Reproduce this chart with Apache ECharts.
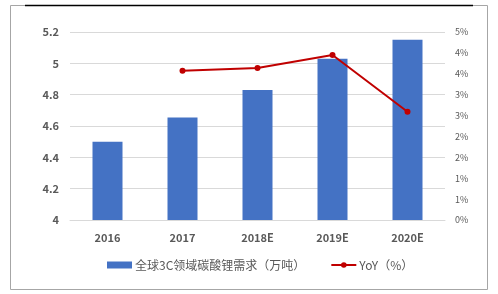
<!DOCTYPE html>
<html><head><meta charset="utf-8">
<script src="https://cdn.jsdelivr.net/npm/echarts@6/dist/echarts.min.js"></script>
<style>html,body{margin:0;padding:0;background:#fff}#c{width:498px;height:294px}</style>
</head><body><div id="c"></div>
<script>
var categories = ['2016','2017','2018E','2019E','2020E'];
var demand = [4.50, 4.655, 4.83, 5.03, 5.15];
var yoy = [null, 3.57, 3.64, 3.95, 2.59];
var rightTickLabels = ['0%','1%','1%','2%','2%','3%','3%','4%','4%','5%'];
var barName = '全球3C领域碳酸锂需求（万吨）';
var lineName = 'YoY（%）';

var font = '"Noto Sans CJK SC", "Noto Sans", sans-serif';
var chart = echarts.init(document.getElementById('c'), null, {renderer:'canvas'});
chart.setOption({
  animation:false,
  textStyle:{fontFamily:font},
  graphic:[
    {type:'rect', shape:{x:10.5,y:5.5,width:477,height:284}, style:{fill:'none',stroke:'#a6a6a6',lineWidth:1}, z:-1},
    {type:'line', shape:{x1:25,y1:5.5,x2:473,y2:5.5}, style:{stroke:'#000',lineWidth:1.5}}
  ],
  grid:{left:70,right:53,top:32,bottom:74,containLabel:false},
  legend:{
    top:254, left:102, itemGap:25, itemWidth:25, itemHeight:7,
    textStyle:{fontSize:12,color:'#595959',fontFamily:font,padding:[0,0,0,-2]},
    data:[{name:barName,icon:'rect'},{name:lineName}]
  },
  xAxis:{
    type:'category', data:categories,
    axisLine:{show:true,lineStyle:{color:'#d9d9d9'}}, axisTick:{show:false},
    axisLabel:{color:'#595959',fontSize:11,fontWeight:'bold',margin:12,fontFamily:font}
  },
  yAxis:[
    {type:'value',min:4,max:5.2,interval:0.2,
     axisLine:{show:false},axisTick:{show:false},
     splitLine:{lineStyle:{color:'#d9d9d9'}},
     axisLabel:{color:'#595959',fontSize:11,fontWeight:'bold',margin:11,fontFamily:font}},
    {type:'value',min:0,max:4.5,interval:0.5,position:'right',
     axisLine:{show:false},axisTick:{show:false},splitLine:{show:false},
     axisLabel:{color:'#595959',fontSize:9,margin:10,fontFamily:font,
       formatter:function(v){var i=Math.round(v/0.5);return rightTickLabels[i]||'';}}}
  ],
  series:[
    {name:barName,type:'bar',data:demand,barWidth:30,itemStyle:{color:'#4472c4'},yAxisIndex:0},
    {name:lineName,type:'line',data:yoy,yAxisIndex:1,symbol:'circle',symbolSize:6,
     lineStyle:{color:'#c00000',width:2},itemStyle:{color:'#c00000'},z:5}
  ]
});
</script></body></html>
